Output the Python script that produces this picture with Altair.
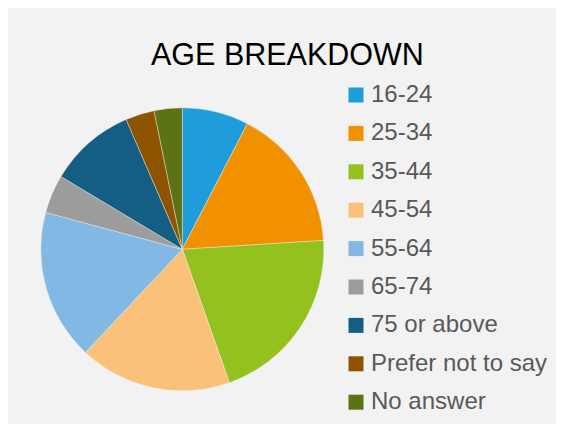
import altair as alt
import pandas as pd

categories = ["16-24", "25-34", "35-44", "45-54", "55-64", "65-74",
              "75 or above", "Prefer not to say", "No answer"]
values = [7.6, 16.4, 20.6, 17.4, 17.2, 4.4, 9.9, 3.3, 3.2]
colors = ["#1E9DDA", "#F29100", "#95C11F", "#F9C179", "#82B8E4",
          "#9C9C9C", "#135E82", "#8E5300", "#5B7314"]

df = pd.DataFrame({"group": categories, "share": values,
                   "idx": list(range(len(categories)))})

chart = alt.Chart(df).mark_arc(outerRadius=141.5, stroke="#f2f2f2", strokeWidth=0.4).encode(
    theta=alt.Theta("share:Q", stack=True),
    order=alt.Order("idx:Q"),
    x=alt.value(174.3),
    y=alt.value(241.3),
    color=alt.Color(
        "group:N",
        scale=alt.Scale(domain=categories, range=colors),
        sort=categories,
        legend=alt.Legend(
            title=None,
            orient="none",
            legendX=336,
            legendY=75,
            padding=0,
            symbolType="square",
            symbolSize=225,
            symbolStrokeWidth=0,
            labelFontSize=24,
            labelFont="Liberation Sans",
            labelColor="#595959",
            labelOffset=3,
            labelLimit=400,
            rowPadding=14.4,
        ),
    ),
).properties(
    width=548,
    height=416,
    autosize=alt.AutoSizeParams(type="none"),
    padding=0,
    background="#f2f2f2",
    title=alt.TitleParams(
        "AGE BREAKDOWN",
        fontSize=30.5,
        font="Liberation Sans",
        fontWeight="normal",
        color="#000000",
        anchor="start",
        dx=143,
        dy=67.5,
    ),
).configure_view(stroke=None)

chart.save("out.html", embed_options={"renderer": "svg", "actions": False})
